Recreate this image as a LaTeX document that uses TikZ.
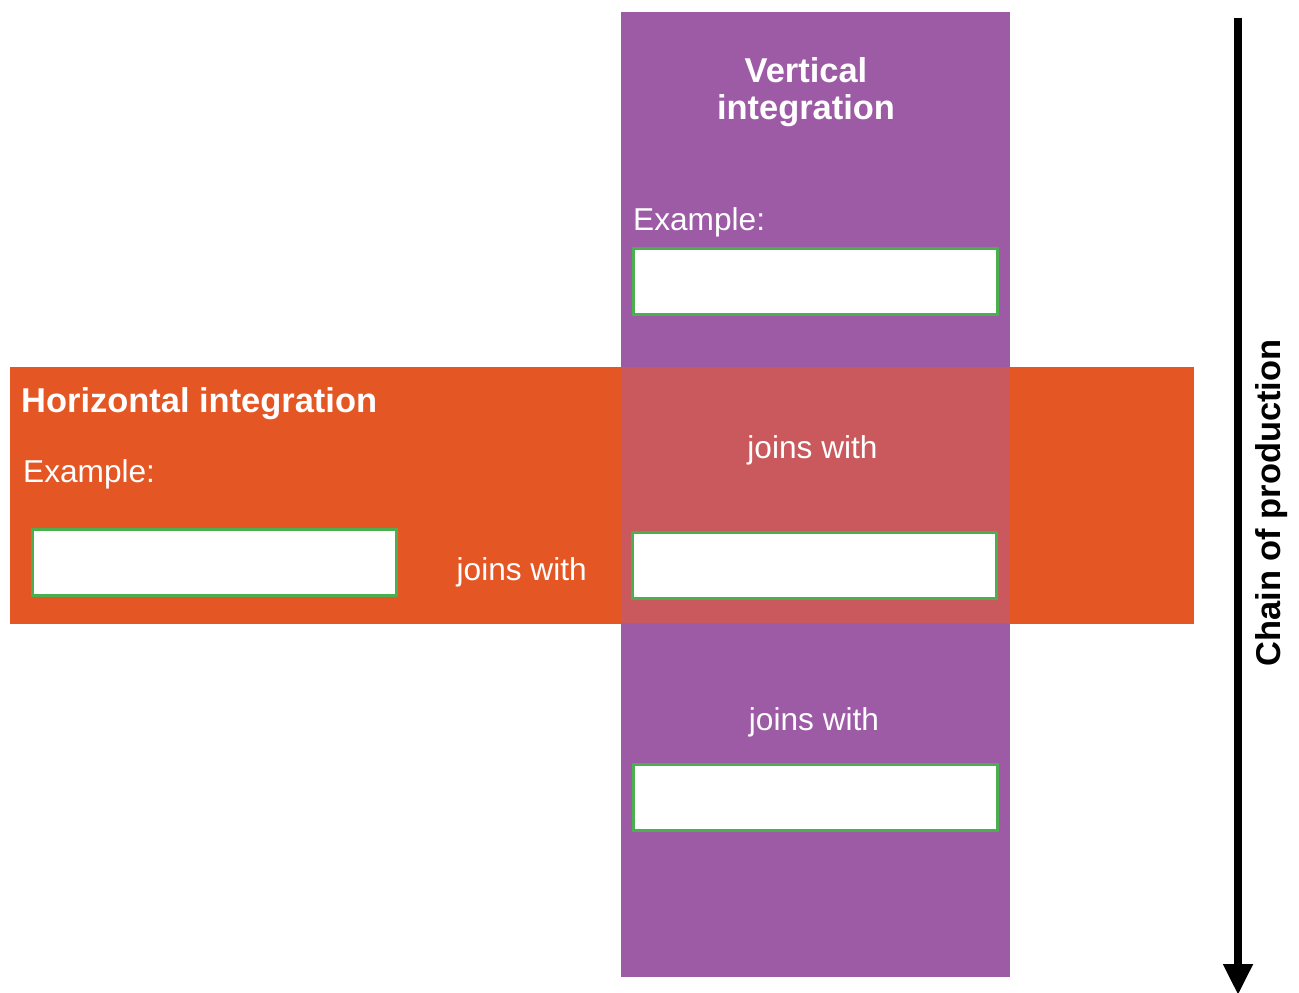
\documentclass[tikz,border=0pt]{standalone}
\usepackage{fontspec}
\setmainfont{Liberation Sans}
\usepackage{tikz}
\usetikzlibrary{arrows.meta}

\definecolor{vpurple}{RGB}{157,91,166}
\definecolor{horange}{RGB}{229,86,37}
\definecolor{overlap}{RGB}{201,89,92}
\definecolor{boxgreen}{RGB}{75,174,79}

\begin{document}
\begin{tikzpicture}[
  answerbox/.style={draw=boxgreen,fill=white,line width=0.03cm,minimum width=3.64cm,minimum height=0.66cm,inner sep=0pt},
  headtext/.style={text=white,inner sep=0pt,font=\fontsize{9.8}{10.5}\selectfont\bfseries},
  bodytext/.style={text=white,inner sep=0pt,font=\fontsize{9}{10.8}\selectfont}
]
\useasboundingbox (0,0) rectangle (12.99,-9.92);

% bands
\fill[horange] (0.10,-3.67) rectangle (11.94,-6.235);
\fill[vpurple] (6.21,-0.12) rectangle (10.10,-9.77);
\fill[overlap] (6.21,-3.67) rectangle (10.10,-6.225);

% vertical integration
\node[headtext,align=center] (vtitle) at (8.06,-0.92) {Vertical\\integration};
\node[bodytext,anchor=base west] (vexample) at (6.325,-2.30) {Example:};
\node[answerbox] (vbox) at (8.155,-2.81) {};

% horizontal integration
\node[headtext,anchor=base west] (htitle) at (0.205,-4.12) {Horizontal integration};
\node[bodytext,anchor=base west] (hexample) at (0.225,-4.82) {Example:};
\node[answerbox] (hbox) at (2.14,-5.625) {};
\node[bodytext,anchor=base] (hjoin) at (5.217,-5.80) {joins with};

% middle and lower firm
\node[bodytext,anchor=base] (mjoin) at (8.125,-4.58) {joins with};
\node[answerbox] (mbox) at (8.145,-5.655) {};
\node[bodytext,anchor=base] (bjoin) at (8.14,-7.30) {joins with};
\node[answerbox] (bbox) at (8.155,-7.975) {};

% chain of production
\coordinate (chaintop) at (12.38,-0.18);
\coordinate (chainend) at (12.38,-9.95);
\draw[line width=0.08cm,-{Triangle[width=0.28cm,length=0.31cm]}] (chaintop) -- (chainend);
\node[headtext,text=black,rotate=90,anchor=base] (chain) at (12.80,-5.03) {Chain of production};
\end{tikzpicture}
\end{document}
